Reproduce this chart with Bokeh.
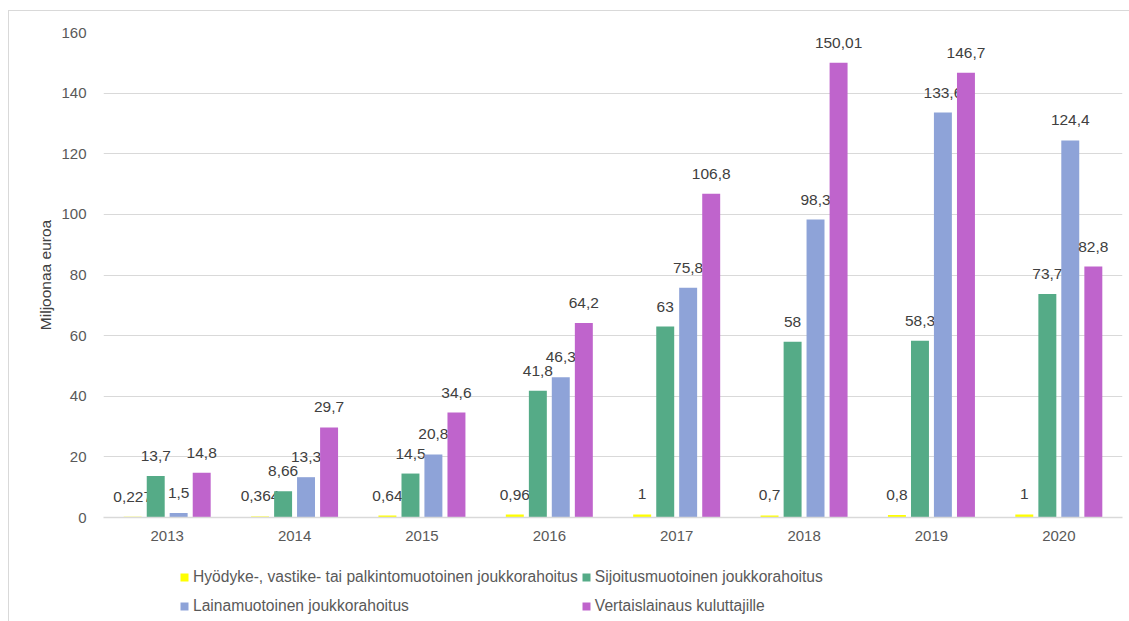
from bokeh.plotting import figure
from bokeh.layouts import column
from bokeh.models import ColumnDataSource, FactorRange, Range1d, Legend, LegendItem
from bokeh.transform import dodge
from bokeh.core.properties import value
from bokeh.embed import file_html
from bokeh.resources import INLINE

# Crowdfunding volumes in Finland, million euros per year
years = ["2013", "2014", "2015", "2016", "2017", "2018", "2019", "2020"]
reward_based = [0.227, 0.364, 0.64, 0.96, 1, 0.7, 0.8, 1]
equity_based = [13.7, 8.66, 14.5, 41.8, 63, 58, 58.3, 73.7]
loan_based = [1.5, 13.3, 20.8, 46.3, 75.8, 98.3, 133.6, 124.4]
p2p_consumer = [14.8, 29.7, 34.6, 64.2, 106.8, 150.01, 146.7, 82.8]

series_names = [
    "Hyödyke-, vastike- tai palkintomuotoinen joukkorahoitus",
    "Sijoitusmuotoinen joukkorahoitus",
    "Lainamuotoinen joukkorahoitus",
    "Vertaislainaus kuluttajille",
]
series_values = [reward_based, equity_based, loan_based, p2p_consumer]
series_colors = ["#FFFF00", "#55AB87", "#8EA3D8", "#BF64CC"]
y_ticks = [0, 20, 40, 60, 80, 100, 120, 140, 160]

FONT_NAME = "Liberation Sans"
offsets = [-0.271, -0.09, 0.09, 0.271]
bar_width = 0.141


def fi_number(v):
    return f"{v:g}".replace(".", ",")


# --- main bar chart -------------------------------------------------------
p = figure(
    x_range=FactorRange(*years),
    y_range=Range1d(0, 160),
    width=1121,
    height=551,
    min_border_left=94,
    min_border_right=8,
    min_border_top=21,
    min_border_bottom=45,
    output_backend="svg",
    toolbar_location=None,
)
p.outline_line_color = None
p.background_fill_color = "white"
p.border_fill_color = "white"

for name, vals, color, off in zip(series_names, series_values, series_colors, offsets):
    src = ColumnDataSource(dict(x=years, top=vals, label=[fi_number(v) for v in vals]))
    xs = dodge("x", off, range=p.x_range)
    p.vbar(x=xs, top="top", width=bar_width, fill_color=color, line_color=None, source=src)
    p.text(
        x=xs, y="top", text="label", source=src,
        text_align="center", text_baseline="alphabetic", y_offset=-20,
        text_font=value(FONT_NAME), text_font_size="15.5px", text_color="#404040",
    )

p.xgrid.grid_line_color = None
p.ygrid.grid_line_color = "#d9d9d9"
p.ygrid.grid_line_width = 1

p.xaxis.axis_line_color = "#d9d9d9"
p.xaxis.axis_line_width = 1.5
p.xaxis.major_tick_line_color = None
p.xaxis.minor_tick_line_color = None
p.xaxis.major_tick_out = 0
p.xaxis.major_tick_in = 0
p.xaxis.major_label_standoff = 13
p.xaxis.major_label_text_font = FONT_NAME
p.xaxis.major_label_text_font_size = "15px"
p.xaxis.major_label_text_color = "#595959"

p.yaxis.ticker = y_ticks
p.yaxis.axis_line_color = None
p.yaxis.major_tick_line_color = None
p.yaxis.minor_tick_line_color = None
p.yaxis.major_tick_out = 0
p.yaxis.major_tick_in = 0
p.yaxis.major_label_standoff = 17
p.yaxis.major_label_text_font = FONT_NAME
p.yaxis.major_label_text_font_size = "15px"
p.yaxis.major_label_text_color = "#595959"
p.yaxis.axis_label = "Miljoonaa euroa"
p.yaxis.axis_label_standoff = 4
p.yaxis.axis_label_text_font = FONT_NAME
p.yaxis.axis_label_text_font_style = "normal"
p.yaxis.axis_label_text_font_size = "15.5px"
p.yaxis.axis_label_text_color = "#404040"

# --- legend strip underneath ---------------------------------------------
leg = figure(
    width=1121,
    height=60,
    x_range=Range1d(0, 1),
    y_range=Range1d(0, 1),
    x_axis_type=None,
    y_axis_type=None,
    min_border=0,
    output_backend="svg",
    toolbar_location=None,
)
leg.outline_line_color = None
leg.background_fill_color = "white"
leg.border_fill_color = "white"
leg.grid.visible = False

# swatch renderers for the legend: zero-height, so nothing shows in the strip
items = []
for name, color in zip(series_names, series_colors):
    r = leg.vbar(x=[0.5], top=[0], bottom=0, width=0.1, fill_color=color, line_color=None)
    items.append(LegendItem(label=name, renderers=[r]))

legend = Legend(
    items=items,
    location=(76, 3),
    orientation="horizontal",
    ncols=2,
    nrows=2,
    glyph_width=10,
    glyph_height=10,
    label_standoff=4,
    spacing=3,
    label_height=26,
    padding=0,
    margin=0,
    border_line_color=None,
    background_fill_alpha=0,
    label_text_font=FONT_NAME,
    label_text_font_size="15.6px",
    label_text_color="#595959",
)
leg.add_layout(legend, "center")

layout = column(
    p, leg,
    spacing=0,
    margin=(10, 0, 0, 8),
    styles={"border-left": "1px solid #d9d9d9", "border-top": "1px solid #d9d9d9"},
)

open("out.html", "w").write(file_html(layout, INLINE))
